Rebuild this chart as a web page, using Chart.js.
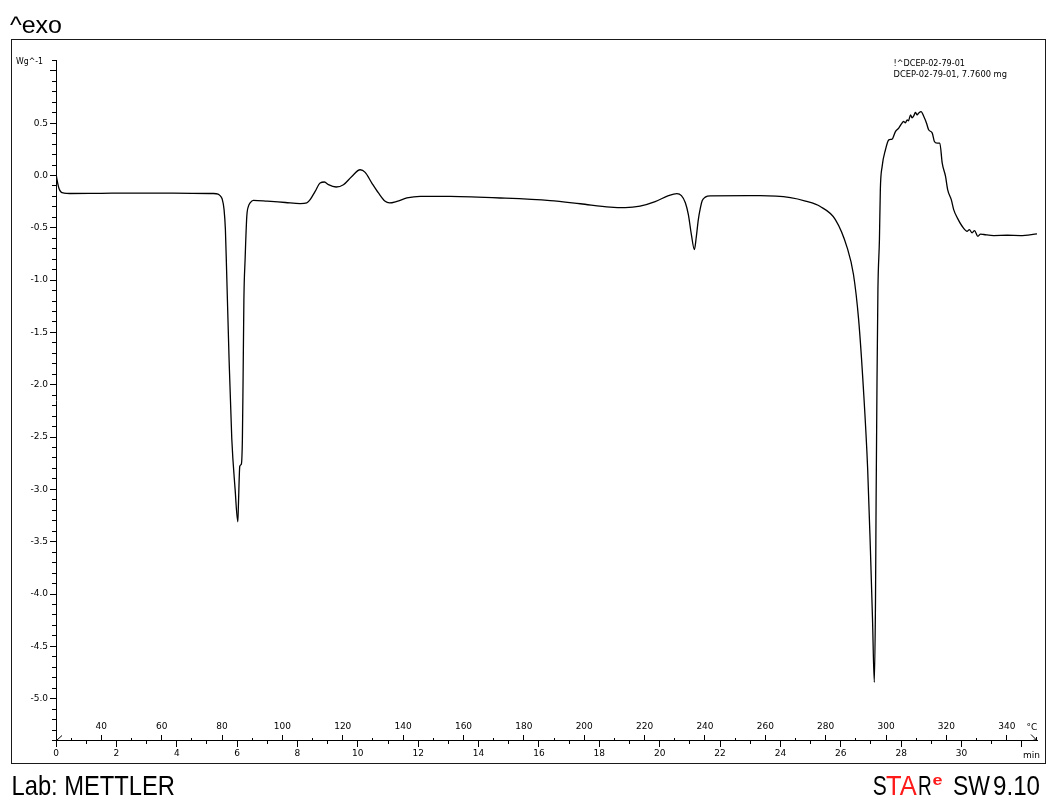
<!DOCTYPE html>
<html>
<head>
<meta charset="utf-8">
<script src="https://cdn.jsdelivr.net/npm/chart.js@4.4.0/dist/chart.umd.min.js"></script>
<style>
  html, body { margin: 0; padding: 0; background: #fff; }
  canvas { display: block; }
</style>
</head>
<body>
<canvas id="dsc" width="1051" height="801"></canvas>
<script>
// DSC run: heat flow (W/g) against time (min); temperature scale derived from the heating program
const timeMin = [
  0, 0.033, 0.1, 0.166, 0.265, 0.46, 1.5, 3.0, 4.5, 5.2,
  5.37, 5.436, 5.502, 5.568, 5.612, 5.651, 5.734, 5.824, 5.933, 6.023,
  6.043, 6.089, 6.142, 6.175, 6.198, 6.225, 6.265, 6.321, 6.374, 6.43,
  6.54, 7.0, 7.6, 8.09, 8.31, 8.42, 8.585, 8.75, 8.893, 9.026,
  9.281, 9.523, 9.8, 10.076, 10.242, 10.464, 10.683, 10.905, 11.048, 11.293,
  11.624, 12.065, 13.06, 14.72, 16.37, 17.37, 18.36, 18.86, 19.35, 19.85,
  20.29, 20.57, 20.72, 20.85, 20.95, 21.05, 21.15, 21.21, 21.28, 21.35,
  21.41, 21.51, 21.68, 23.33, 24.33, 24.83, 25.32, 25.82, 26.21, 26.42,
  26.59, 26.75, 26.89, 26.98, 27.05, 27.11, 27.15, 27.17, 27.2, 27.23,
  27.28, 27.31, 27.37, 27.48, 27.59, 27.7, 27.81, 27.92, 28.01, 28.08,
  28.14, 28.2, 28.24, 28.31, 28.36, 28.42, 28.47, 28.53, 28.58, 28.66,
  28.75, 28.84, 28.91, 29.03, 29.1, 29.19, 29.28, 29.36, 29.47, 29.54,
  29.66, 29.74, 29.86, 30.02, 30.19, 30.26, 30.35, 30.43, 30.54, 30.63,
  30.74, 31.07, 31.51, 31.95, 32.5
];
const heatFlow = [
  0.02, -0.04, -0.125, -0.158, -0.168, -0.172, -0.17, -0.168, -0.17, -0.172,
  -0.178, -0.193, -0.222, -0.326, -0.517, -0.898, -1.756, -2.519, -2.995, -3.31,
  -3.154, -2.779, -2.757, -2.519, -1.947, -1.184, -0.803, -0.39, -0.295, -0.262,
  -0.237, -0.245, -0.258, -0.268, -0.262, -0.231, -0.152, -0.072, -0.062, -0.088,
  -0.11, -0.088, -0.009, 0.055, 0.03, -0.072, -0.167, -0.247, -0.262, -0.247,
  -0.215, -0.199, -0.2, -0.215, -0.24, -0.27, -0.302, -0.307, -0.293, -0.25,
  -0.193, -0.173, -0.193, -0.26, -0.374, -0.565, -0.708, -0.593, -0.421, -0.307,
  -0.24, -0.207, -0.195, -0.193, -0.212, -0.245, -0.297, -0.421, -0.689, -0.946,
  -1.375, -2.042, -2.805, -3.567, -4.234, -4.844, -4.044, -3.09, -1.946, -1.088,
  -0.61, -0.135, 0.087, 0.246, 0.341, 0.348, 0.42, 0.453, 0.494, 0.516,
  0.503, 0.532, 0.522, 0.58, 0.551, 0.572, 0.602, 0.58, 0.596, 0.611,
  0.563, 0.5, 0.437, 0.405, 0.325, 0.31, 0.31, 0.119, -0.009, -0.135,
  -0.231, -0.326, -0.405, -0.485, -0.533, -0.517, -0.548, -0.526, -0.581, -0.56,
  -0.564, -0.574, -0.571, -0.574, -0.558
];

// Axis ranges and heating program
const yMin = -5.4, yMax = 1.1;
const tMin = 0, tMax = 32.5;
const startTemp = 25;      // °C at t = 0
const heatingRate = 10;    // °C/min
const tempMin = startTemp + heatingRate * tMin;
const tempMax = startTemp + heatingRate * tMax;

// Text
const yUnit = 'Wg^-1';
const timeUnit = 'min';
const tempUnit = '°C';
const sampleLines = ['!^DCEP-02-79-01', 'DCEP-02-79-01, 7.7600 mg'];
const curveTitle = '^exo';
const labText = 'Lab: METTLER';

const tickFont = { family: 'DejaVu Sans', size: 9 };
const axisRow = { y: yMin };
const clear = 'rgba(0,0,0,0)';

// Draw text squeezed/stretched horizontally to a given width
function drawFit(ctx, text, x, baseline, width, font, color) {
  ctx.save();
  ctx.font = font;
  ctx.fillStyle = color;
  ctx.textAlign = 'left';
  ctx.textBaseline = 'alphabetic';
  const w = ctx.measureText(text).width;
  ctx.translate(x, baseline);
  ctx.scale(width / w, 1);
  ctx.fillText(text, 0, 0);
  ctx.restore();
}

const decorations = {
  id: 'decorations',
  afterDraw(chart) {
    const ctx = chart.ctx;
    const area = chart.chartArea;
    const xs = chart.scales.x;
    const ys = chart.scales.y;
    const x0 = Math.round(xs.getPixelForValue(tMin) - 0.5) + 0.5;
    const yAxis = Math.round(ys.getPixelForValue(yMin) - 0.5) + 0.5;

    ctx.save();
    // outer frame
    ctx.strokeStyle = '#1a1a1a';
    ctx.lineWidth = 1;
    ctx.strokeRect(11.5, 39.5, 1034, 724);

    // start marker of the temperature scale
    ctx.strokeStyle = '#000';
    ctx.beginPath();
    ctx.moveTo(x0, yAxis);
    ctx.lineTo(x0 + 5.5, yAxis - 5);
    ctx.stroke();

    // temperature unit with arrow at the end of the axis
    const xe = area.right;
    ctx.beginPath();
    ctx.moveTo(xe - 6, yAxis - 6);
    ctx.lineTo(xe - 0.5, yAxis - 0.5);
    ctx.moveTo(xe - 0.5, yAxis - 0.5);
    ctx.lineTo(xe - 3.5, yAxis - 0.5);
    ctx.moveTo(xe - 0.5, yAxis - 0.5);
    ctx.lineTo(xe - 0.5, yAxis - 3.5);
    ctx.stroke();
    ctx.restore();

    const small = '9px "DejaVu Sans"';
    ctx.save();
    ctx.font = small;
    ctx.fillStyle = '#000';
    ctx.textBaseline = 'middle';
    ctx.textAlign = 'center';
    ctx.fillText(tempUnit, xe - 5, yAxis - 13);
    ctx.textAlign = 'left';
    ctx.fillText(timeUnit, xe - 14, yAxis + 15);
    ctx.restore();

    // y unit at the top of the axis
    drawFit(ctx, yUnit, 16, ys.getPixelForValue(yMax) + 3.5, 27, small, '#000');

    // sample identification
    drawFit(ctx, sampleLines[0], 893.5, 66, 71.5, '8.5px "DejaVu Sans"', '#000');
    drawFit(ctx, sampleLines[1], 893.5, 76.5, 113.5, '8.5px "DejaVu Sans"', '#000');

    // header and footer
    const narrow = '"Liberation Sans Narrow", "Liberation Sans"';
    drawFit(ctx, curveTitle, 10, 32.5, 52, '24px "Liberation Sans"', '#000');
    drawFit(ctx, labText, 11.5, 795, 163.5, '28px ' + narrow, '#000');

    const big = '28px ' + narrow;
    const red = '#ff1a1a';
    drawFit(ctx, 'S', 872.7, 795, 14, big, '#000');
    drawFit(ctx, 'TA', 886, 795, 30.7, big, red);
    drawFit(ctx, 'R', 918, 795, 13.7, big, '#000');
    drawFit(ctx, 'e', 932.5, 785, 10, 'bold 15px "Liberation Sans"', red);
    drawFit(ctx, 'SW', 953, 795, 37, big, '#000');
    drawFit(ctx, '9.10', 993, 795, 47, big, '#000');
  }
};

new Chart(document.getElementById('dsc'), {
  type: 'line',
  data: {
    labels: timeMin,
    datasets: [{
      data: timeMin.map((t, i) => ({ x: t, y: heatFlow[i] })),
      borderColor: '#000',
      borderWidth: 1.3,
      pointRadius: 0,
      fill: false,
      tension: 0.3,
      cubicInterpolationMode: 'monotone',
      xAxisID: 'x',
      yAxisID: 'y'
    }]
  },
  options: {
    responsive: false,
    animation: false,
    devicePixelRatio: 1,
    layout: { padding: { left: 10, top: 60.4, right: 14, bottom: 60.5 } },
    plugins: { legend: { display: false }, tooltip: { enabled: false } },
    scales: {
      x: {
        type: 'linear', position: axisRow, min: tMin, max: tMax,
        ticks: {
          stepSize: 2, includeBounds: false, autoSkip: false, maxRotation: 0, minRotation: 0,
          padding: 2, color: '#000', font: tickFont,
          callback: v => (v <= 30 ? String(v) : '')
        },
        grid: { drawOnChartArea: false, drawTicks: true, tickLength: 6, tickColor: '#000', tickWidth: 1 },
        border: { display: true, color: '#000', width: 1 }
      },
      xMinor: {
        type: 'linear', position: axisRow, min: tMin, max: tMax,
        ticks: { stepSize: 1, includeBounds: false, autoSkip: false, maxRotation: 0, font: tickFont, callback: () => '' },
        grid: { drawOnChartArea: false, drawTicks: true, tickLength: 3, tickColor: '#000', tickWidth: 1 },
        border: { display: false }
      },
      xTemp: {
        type: 'linear', position: axisRow, min: tempMin, max: tempMax,
        ticks: {
          stepSize: 20, includeBounds: false, autoSkip: false, maxRotation: 0, minRotation: 0,
          padding: -13, color: '#000', font: tickFont,
          callback: v => String(v)
        },
        grid: { drawOnChartArea: false, drawTicks: true, tickLength: -6, tickColor: '#000', tickWidth: 1 },
        border: { display: false }
      },
      xTempMinor: {
        type: 'linear', position: axisRow, min: tempMin, max: tempMax,
        ticks: { stepSize: 10, includeBounds: false, autoSkip: false, maxRotation: 0, font: tickFont, callback: () => '' },
        grid: {
          drawOnChartArea: false, drawTicks: true, tickLength: -3, tickWidth: 1,
          tickColor: c => (c.tick && c.tick.value >= tempMax - 1 ? clear : '#000')
        },
        border: { display: false }
      },
      y: {
        type: 'linear', position: 'left', min: yMin, max: yMax,
        afterFit: s => { s.width = 46; },
        ticks: {
          stepSize: 0.1, includeBounds: false, autoSkip: false, padding: 2, color: '#000', font: tickFont,
          callback: v => {
            const r = Math.round(v * 10);
            return (r % 5 === 0 && r >= -50 && r <= 5) ? (r / 10).toFixed(1) : '';
          }
        },
        grid: {
          drawOnChartArea: false, drawTicks: true, tickLength: 6, tickWidth: 1,
          tickColor: c => {
            if (!c.tick) return clear;
            const r = Math.round(c.tick.value * 10);
            return (r % 5 === 0) ? '#000' : clear;
          }
        },
        border: { display: true, color: '#000', width: 1 }
      },
      yMinor: {
        type: 'linear', position: { x: tMin }, min: yMin, max: yMax,
        ticks: { stepSize: 0.1, includeBounds: false, autoSkip: false, font: tickFont, callback: () => '' },
        grid: { drawOnChartArea: false, drawTicks: true, tickLength: 4, tickColor: '#000', tickWidth: 1 },
        border: { display: false }
      }
    }
  },
  plugins: [decorations]
});
</script>
</body>
</html>
